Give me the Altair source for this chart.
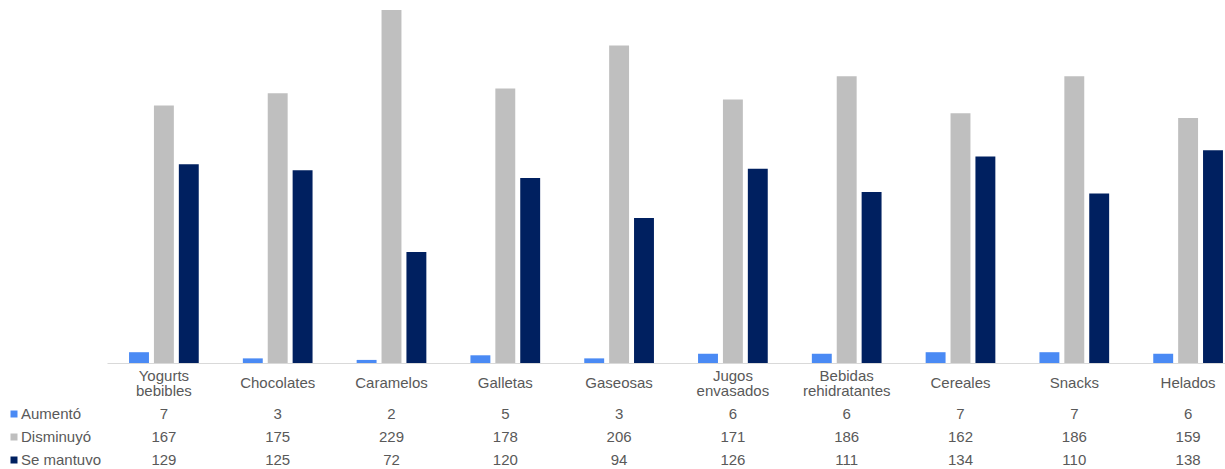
import altair as alt
import pandas as pd

categories = ["Yogurts bebibles", "Chocolates", "Caramelos", "Galletas", "Gaseosas",
              "Jugos envasados", "Bebidas rehidratantes", "Cereales", "Snacks", "Helados"]
series = ["Aumentó", "Disminuyó", "Se mantuvo"]
colors = ["#4a8af4", "#bfbfbf", "#002060"]
aumento = [7, 3, 2, 5, 3, 6, 6, 7, 7, 6]
disminuyo = [167, 175, 229, 178, 206, 171, 186, 162, 186, 159]
se_mantuvo = [129, 125, 72, 120, 94, 126, 111, 134, 110, 138]

rows = []
for s, vals in zip(series, [aumento, disminuyo, se_mantuvo]):
    for c, v in zip(categories, vals):
        rows.append({"categoria": c, "serie": s, "valor": v})
df = pd.DataFrame(rows)
cat_df = pd.DataFrame({"categoria": categories})

FONT = "Liberation Sans"
TXT = "#595959"

x = alt.X("categoria:N", sort=categories,
          scale=alt.Scale(paddingInner=0.3875, paddingOuter=0.19375, range=[0, 1138]),
          axis=alt.Axis(title=None, ticks=False, labels=False,
                        domainColor="#d9d9d9"))
xc = alt.X("categoria:N", sort=categories)
color = alt.Color("serie:N", sort=series,
                  scale=alt.Scale(domain=series, range=colors), legend=None)

bars = alt.Chart(df).mark_bar().encode(
    x=x,
    xOffset=alt.XOffset("serie:N", sort=series,
                        scale=alt.Scale(paddingInner=0.2, paddingOuter=0)),
    y=alt.Y("valor:Q", scale=alt.Scale(domain=[0, 229], nice=False), axis=None),
    color=color,
)

# category labels (one- and two-line)
cat_single = alt.Chart(cat_df).transform_filter(
    "indexof(datum.categoria, ' ') < 0").mark_text(
    fontSize=15, font=FONT, color=TXT, baseline="middle").encode(
    x=xc, y=alt.value(373), text="categoria:N")
cat_double = alt.Chart(cat_df).transform_filter(
    "indexof(datum.categoria, ' ') >= 0").mark_text(
    fontSize=15, font=FONT, color=TXT, baseline="middle", lineBreak=" ",
    lineHeight=15).encode(
    x=xc, y=alt.value(366), text="categoria:N")

layers = [bars, cat_single, cat_double]
row_y = [404, 427, 450]
for s, yy in zip(series, row_y):
    txt = alt.Chart(df).transform_filter(alt.datum.serie == s).mark_text(
        fontSize=15, font=FONT, color=TXT, baseline="middle").encode(
        x=xc, y=alt.value(yy), text="valor:Q",
    )
    hdr_df = pd.DataFrame({"serie": [s]})
    hdr = alt.Chart(hdr_df).mark_text(
        fontSize=15, font=FONT, color=TXT, baseline="middle", align="left").encode(
        x=alt.value(-86), y=alt.value(yy), text="serie:N")
    sq = alt.Chart(hdr_df).mark_square(size=49, opacity=1).encode(
        x=alt.value(-93), y=alt.value(yy), color=color)
    layers += [txt, hdr, sq]

chart = alt.layer(*layers).properties(
    width=1118, height=353,
    autosize=alt.AutoSizeParams(type="none"),
    padding={"left": 107, "top": 10, "right": 0, "bottom": 106},
).configure_view(stroke=None)

chart.save("out.html", embed_options={"renderer": "svg", "actions": False})
